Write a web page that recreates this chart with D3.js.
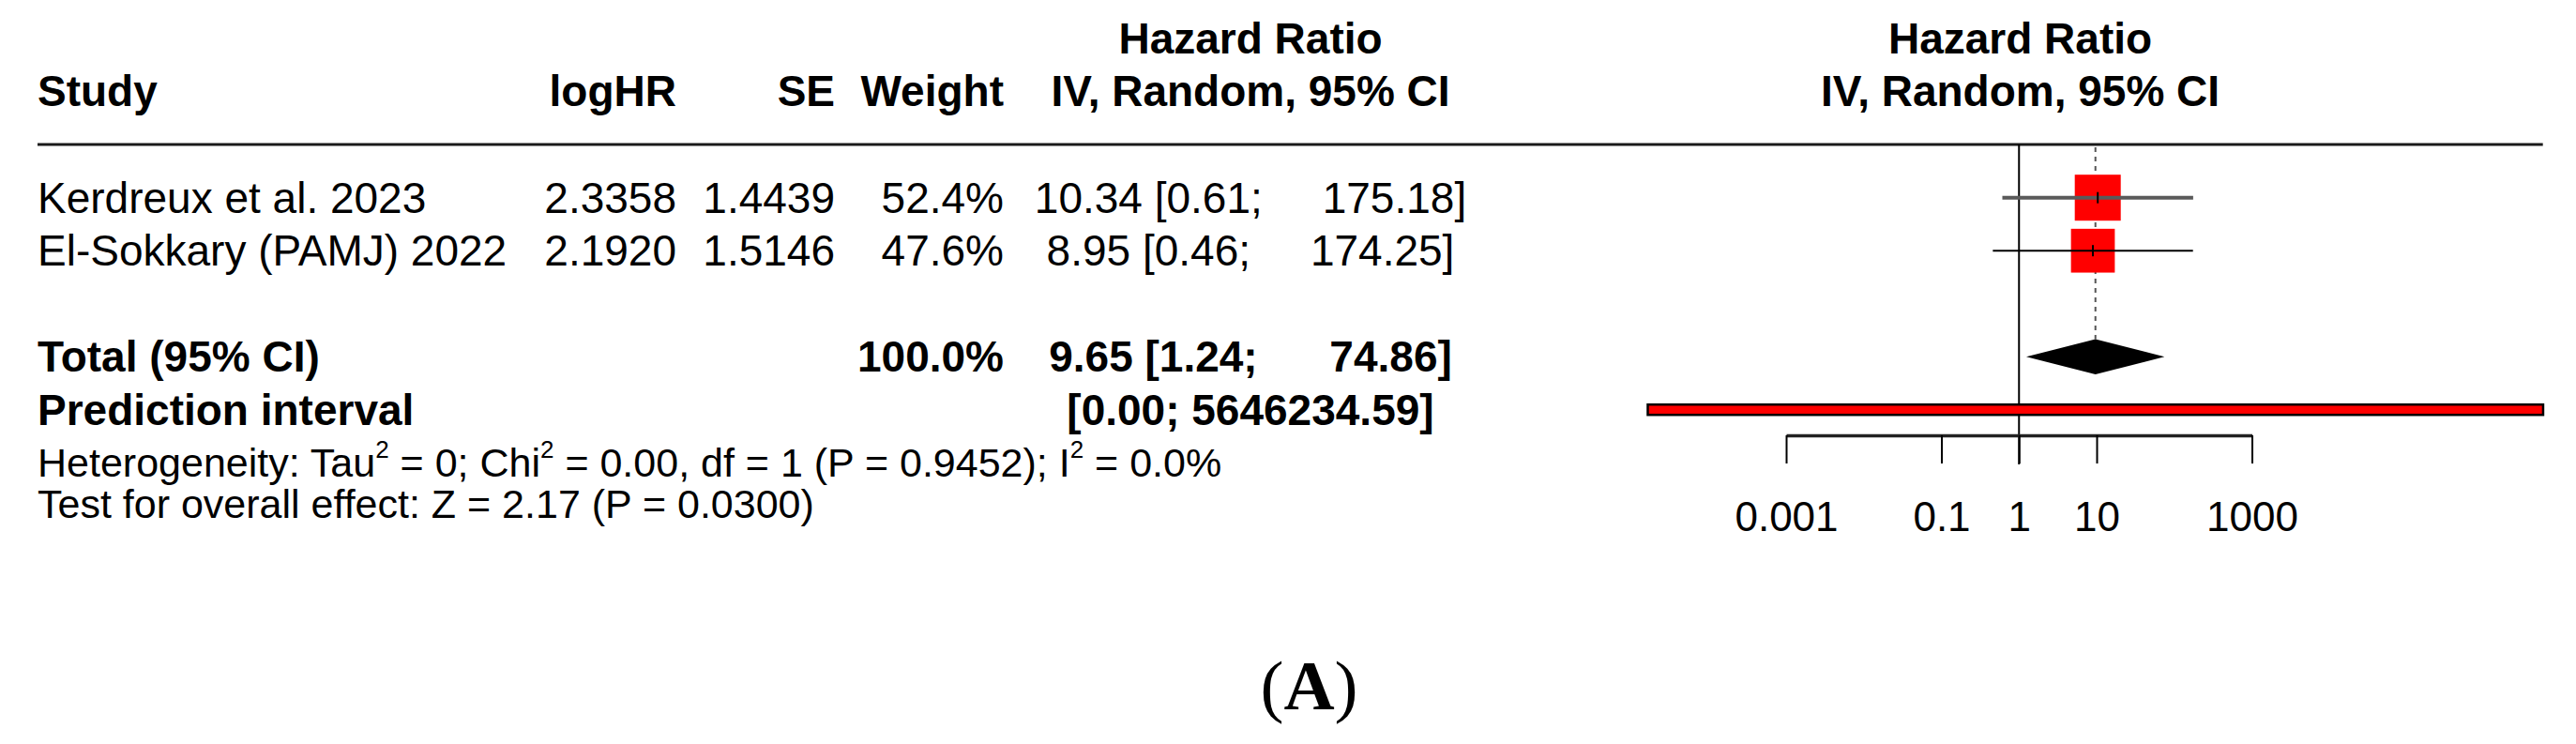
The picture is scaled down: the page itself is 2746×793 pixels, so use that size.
<!DOCTYPE html>
<html>
<head>
<meta charset="utf-8">
<script src="https://cdn.jsdelivr.net/npm/d3@7"></script>
<style>
  body { margin: 0; background: #fff; }
  svg { display: block; font-family: "Liberation Sans", Arial, sans-serif; }
  text { white-space: pre; }
</style>
</head>
<body>
<svg id="forest" width="2746" height="793"></svg>
<script>
// study level data
const studies  = ['Kerdreux et al. 2023', 'El-Sokkary (PAMJ) 2022'];
const logHR    = [2.3358, 2.1920];
const se       = [1.4439, 1.5146];
const weights  = [52.4, 47.6];
const hr       = [10.34, 8.95];
const ciLower  = [0.61, 0.46];
const ciUpper  = [175.18, 174.25];

// pooled (random effects) + prediction interval
const totalWeight = 100.0;
const pooledHR    = 9.65;
const pooledLower = 1.24;
const pooledUpper = 74.86;
const predLower   = 0.0000165;   // printed as 0.00
const predUpper   = 5646234.59;

const axisTicks = [0.001, 0.1, 1, 10, 1000];
const colHeaders = ['Study', 'logHR', 'SE', 'Weight'];
const hetText  = ['Heterogeneity: Tau', '2', ' = 0; Chi', '2', ' = 0.00, df = 1 (P = 0.9452); I', '2', ' = 0.0%'];
const testText = 'Test for overall effect: Z = 2.17 (P = 0.0300)';

const svg = d3.select('#forest');
const FS = 46;

// scales
const x = d3.scaleLog().domain([0.001, 1000]).range([1904, 2400.5]);
const rowY = d3.scaleLinear().domain([0, 4]).range([210.7, 436.7]);
const side = d3.scaleSqrt().domain([0, 100]).range([0, 67.7]);
const base = i => rowY(i) + 16;

// helper for text
function txt(xp, y, s, anchor = 'start', bold = false, size = FS) {
  return svg.append('text')
    .attr('x', xp).attr('y', y)
    .attr('text-anchor', anchor)
    .attr('font-size', size)
    .attr('font-weight', bold ? 'bold' : 'normal')
    .text(s);
}

const pad = (s, n) => ' '.repeat(Math.max(0, n - s.length)) + s;
const hiWidth = d3.max([...ciUpper, pooledUpper, predUpper], v => v.toFixed(2).length);
const ciStr = (h, l, u) => `${h.toFixed(2)} [${l.toFixed(2)}; ${pad(u.toFixed(2), hiWidth)}]`;

// column x positions
const colX = { study: 40, logHR: 721, se: 890, weight: 1070, ci: 1333, plot: 2153.5 };

// headers
txt(colX.study, 113, colHeaders[0], 'start', true);
txt(colX.logHR, 113, colHeaders[1], 'end', true);
txt(colX.se, 113, colHeaders[2], 'end', true);
txt(colX.weight, 113, colHeaders[3], 'end', true);
txt(colX.ci, 57, 'Hazard Ratio', 'middle', true);
txt(colX.ci, 113, 'IV, Random, 95% CI', 'middle', true);
txt(colX.plot, 57, 'Hazard Ratio', 'middle', true);
txt(colX.plot, 113, 'IV, Random, 95% CI', 'middle', true);

// rule under header
svg.append('line')
  .attr('x1', 40).attr('x2', 2710.7).attr('y1', 154).attr('y2', 154)
  .attr('stroke', '#1a1a1a').attr('stroke-width', 3);

// study rows
studies.forEach((s, i) => {
  const y = base(i);
  txt(colX.study, y, s);
  txt(colX.logHR, y, logHR[i].toFixed(4), 'end');
  txt(colX.se, y, se[i].toFixed(4), 'end');
  txt(colX.weight, y, weights[i].toFixed(1) + '%', 'end');
  txt(colX.ci, y, ciStr(hr[i], ciLower[i], ciUpper[i]), 'middle');
});

// total + prediction rows
txt(colX.study, base(3), 'Total (95% CI)', 'start', true);
txt(colX.weight, base(3), totalWeight.toFixed(1) + '%', 'end', true);
txt(colX.ci, base(3), ciStr(pooledHR, pooledLower, pooledUpper), 'middle', true);
txt(colX.study, base(4), 'Prediction interval', 'start', true);
txt(colX.ci, base(4), `[${predLower.toFixed(2)}; ${predUpper.toFixed(2)}]`, 'middle', true);

// heterogeneity + overall effect
const het = txt(colX.study, 508, '', 'start', false, 43);
hetText.forEach((part, k) => {
  const sup = k % 2 === 1;
  het.append('tspan')
    .attr('dy', sup ? -20 : (k > 0 ? 20 : 0))
    .attr('font-size', sup ? 26 : 43)
    .text(part);
});
txt(colX.study, 552, testText, 'start', false, 43);

// null line at HR = 1
svg.append('line')
  .attr('x1', x(1)).attr('x2', x(1)).attr('y1', 154).attr('y2', 495)
  .attr('stroke', '#000').attr('stroke-width', 2);

// dashed line at pooled estimate
const diamondH = 37.6;
svg.append('line')
  .attr('x1', x(pooledHR)).attr('x2', x(pooledHR))
  .attr('y1', 157).attr('y2', rowY(3) - diamondH / 2)
  .attr('stroke', '#555').attr('stroke-width', 2)
  .attr('stroke-dasharray', '5,5');

// study squares and CIs
const rows = studies.map((s, i) => ({ i, hr: hr[i], lo: ciLower[i], hi: ciUpper[i], w: weights[i] }));

svg.selectAll('rect.box')
  .data(rows)
  .join('rect')
  .attr('class', 'box')
  .attr('x', d => x(d.hr) - side(d.w) / 2)
  .attr('y', d => rowY(d.i) - side(d.w) / 2)
  .attr('width', d => side(d.w))
  .attr('height', d => side(d.w))
  .attr('fill', '#ff0000');

svg.selectAll('line.ci')
  .data(rows)
  .join('line')
  .attr('class', 'ci')
  .attr('x1', d => x(d.lo)).attr('x2', d => x(d.hi))
  .attr('y1', d => rowY(d.i)).attr('y2', d => rowY(d.i))
  .attr('stroke', d => d.i === 0 ? '#5a5a5a' : '#000')
  .attr('stroke-width', d => d.i === 0 ? 4 : 2);

svg.selectAll('line.est')
  .data(rows)
  .join('line')
  .attr('class', 'est')
  .attr('x1', d => x(d.hr)).attr('x2', d => x(d.hr))
  .attr('y1', d => rowY(d.i) - 6).attr('y2', d => rowY(d.i) + 6)
  .attr('stroke', '#000').attr('stroke-width', 2);

// pooled diamond
const cy = rowY(3);
svg.append('path')
  .attr('d', d3.line()([
    [x(pooledLower), cy], [x(pooledHR), cy - diamondH / 2],
    [x(pooledUpper), cy], [x(pooledHR), cy + diamondH / 2]
  ]) + 'Z')
  .attr('fill', '#000');

// prediction interval bar
svg.append('rect')
  .attr('x', x(predLower)).attr('width', x(predUpper) - x(predLower))
  .attr('y', rowY(4) - 5.5).attr('height', 11)
  .attr('fill', '#ff0000').attr('stroke', '#000').attr('stroke-width', 2.5);

// axis
const axis = svg.append('g')
  .attr('transform', 'translate(0,464)')
  .call(d3.axisBottom(x)
    .tickValues(axisTicks)
    .tickFormat(d => String(d))
    .tickSize(30)
    .tickSizeOuter(0)
    .tickPadding(41));
axis.select('.domain').attr('stroke', '#222').attr('stroke-width', 3.5);
axis.selectAll('.tick line').attr('stroke', '#000').attr('stroke-width', 2);
axis.selectAll('.tick text')
  .attr('font-size', 44)
  .attr('font-family', '"Liberation Sans", Arial, sans-serif')
  .attr('fill', '#000');

// panel label
const lab = svg.append('text')
  .attr('x', 1395.5).attr('y', 756)
  .attr('text-anchor', 'middle')
  .attr('font-family', '"Liberation Serif", "Times New Roman", serif')
  .attr('font-size', 75);
lab.append('tspan').text('(');
lab.append('tspan').attr('font-weight', 'bold').text('A');
lab.append('tspan').text(')');
</script>
</body>
</html>
